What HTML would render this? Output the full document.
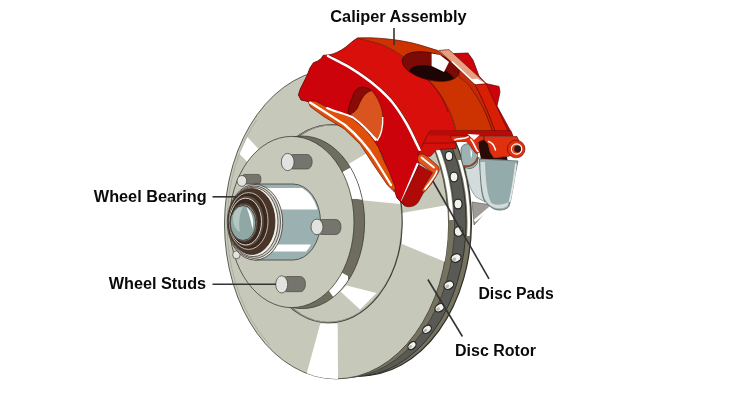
<!DOCTYPE html>
<html><head><meta charset="utf-8"><title>Disc Brake Parts</title>
<style>
html,body{margin:0;padding:0;background:#fff;}
body{width:750px;height:400px;overflow:hidden;position:relative;font-family:"Liberation Sans",sans-serif;}
svg{position:absolute;left:0;top:0;display:block;will-change:transform;-webkit-font-smoothing:antialiased}
.lbl{font-family:"Liberation Sans",sans-serif;font-weight:700;font-size:16px;fill:#0a0a0a;}
</style></head><body>
<svg width="750" height="400" viewBox="0 0 750 400">
<defs>
<clipPath id="faceclip"><ellipse cx="336.28" cy="224.0" rx="111.8" ry="154.9"/></clipPath>
<clipPath id="leftclip"><rect x="200" y="120" width="70" height="230"/></clipPath>
<clipPath id="hiclip"><rect x="400" y="120" width="90" height="100"/></clipPath>
<clipPath id="hiclip2"><rect x="400" y="160" width="90" height="76"/></clipPath>
<clipPath id="hatclip"><ellipse cx="330.3" cy="223.6" rx="71" ry="98.300" transform="rotate(2 330.3 223.6)"/></clipPath>
<clipPath id="cresclip"><ellipse cx="302.200" cy="222.300" rx="62" ry="85.900"/></clipPath>
<clipPath id="holeclip"><ellipse cx="430.500" cy="66.500" rx="28.700" ry="13.200" transform="rotate(14 430.5 66.5)"/></clipPath>
</defs>
<!-- ROTOR -->
<g id="rotor">
<ellipse cx="360.24" cy="221.65" rx="111.27" ry="154.16" fill="#75735f" stroke="#2e2e28" stroke-width="1.200"/>
<ellipse cx="354.66" cy="222.20" rx="111.39" ry="154.33" fill="#595955" stroke="#2e2e28" stroke-width="0.900"/>
<ellipse cx="342.99" cy="223.34" rx="111.65" ry="154.69" fill="#75735f" stroke="#3c3c36" stroke-width="0.800"/>
<g clip-path="url(#hiclip)" fill="none" stroke="#fff">
<ellipse cx="339.63" cy="223.67" rx="111.73" ry="154.80" stroke-width="3.800"/>
</g>
<g clip-path="url(#hiclip2)" fill="none" stroke="#fff">
<ellipse cx="357.48" cy="221.92" rx="111.33" ry="154.25" stroke-width="2.600"/>
</g>
<g id="holes" fill="#f2f2ee" stroke="#2a2a26" stroke-width="1.300">
<ellipse cx="449" cy="156" rx="3.800" ry="4.600"/>
<ellipse cx="454" cy="177" rx="4.000" ry="4.800"/>
<ellipse cx="458" cy="204" rx="4.100" ry="4.900"/>
<ellipse cx="458.500" cy="231.500" rx="4.300" ry="4.800"/>
<ellipse cx="456" cy="258" rx="5.100" ry="4.100" transform="rotate(-22 456 258)"/>
<ellipse cx="448.800" cy="285.200" rx="5.100" ry="3.900" transform="rotate(-28 448.8 285.2)"/>
<ellipse cx="439.600" cy="307.800" rx="5.000" ry="3.700" transform="rotate(-33 439.6 307.8)"/>
<ellipse cx="427" cy="329.300" rx="4.900" ry="3.500" transform="rotate(-38 427 329.3)"/>
<ellipse cx="412" cy="345.600" rx="4.700" ry="3.200" transform="rotate(-42 412 345.6)"/>
</g>
<g fill="#b9b9b1">
<ellipse cx="454.300" cy="259.300" rx="2" ry="1.700" transform="rotate(-22 454.3 259.3)"/>
<ellipse cx="447.200" cy="286.400" rx="2" ry="1.600" transform="rotate(-28 447.2 286.4)"/>
<ellipse cx="438" cy="309" rx="2" ry="1.500" transform="rotate(-33 438 309)"/>
<ellipse cx="425.500" cy="330.400" rx="1.900" ry="1.400" transform="rotate(-38 425.5 330.4)"/>
<ellipse cx="410.600" cy="346.600" rx="1.800" ry="1.300" transform="rotate(-42 410.6 346.6)"/>
</g>
<ellipse cx="336.28" cy="224.00" rx="111.80" ry="154.90" fill="#c6c9ba" stroke="#3c3c36" stroke-width="0.800"/>
<g clip-path="url(#faceclip)" fill="#fff">
<polygon points="247.400,137 258.500,149 247.500,162 239,153.500"/>
<polygon points="320.300,323.500 337.700,323.500 338,382 306,376"/>
<polygon points="402,213 450,204.500 450,264 402,244"/>
</g>
<g clip-path="url(#leftclip)">
<ellipse cx="336.58" cy="224.00" rx="109.50" ry="152.60" fill="none" stroke="#9c9c90" stroke-width="0.600"/>
</g>
</g>
<!-- HAT -->
<g id="hat">
<ellipse cx="330.300" cy="223.600" rx="71.600" ry="98.900" transform="rotate(2 330.3 223.6)" fill="#c6c9ba" stroke="#3c3c36" stroke-width="1.600"/>
<ellipse cx="330" cy="223.600" rx="71.300" ry="98.600" transform="rotate(2 330.3 223.6)" fill="none" stroke="#e8e8e0" stroke-width="0.500"/>
<g clip-path="url(#hatclip)" fill="#fff">
<polygon points="299,193 352,162 372,150 420,150 420,206 400,204 362,200.300"/>
<polygon points="346.500,285.500 376.500,293 360,309.500 340.500,291.500"/>
</g>
<ellipse cx="302.200" cy="222.300" rx="62.400" ry="86.300" fill="#6e6d5e" stroke="#3c3c36" stroke-width="0.800"/>
<g clip-path="url(#cresclip)" fill="#fff">
<polygon points="299,198 346,170 372,156 372,202 357.500,199"/>
<polygon points="300,250 348,276 348,294 334,298"/>
</g>
<ellipse cx="291.700" cy="222" rx="62.300" ry="85.600" fill="#c6c9ba" stroke="#3c3c36" stroke-width="0.800"/>
</g>
<!-- STUDS -->
<g id="studs">
<g fill="#75756d" stroke="#3c3c36" stroke-width="0.6">
<rect x="287.7" y="154.5" width="24.5" height="14.5" rx="5" ry="7"/>
<rect x="241.9" y="174.4" width="19" height="9.6" rx="3" ry="4.5"/>
<rect x="316.5" y="219.5" width="24.500" height="15" rx="5" ry="7"/>
<rect x="281.7" y="276.5" width="23.7" height="15.2" rx="5" ry="7"/>
</g>
<g fill="#e2e2e0" stroke="#3c3c36" stroke-width="0.7">
<ellipse cx="287.7" cy="162" rx="6.4" ry="8.6"/>
<ellipse cx="241.9" cy="180.9" rx="4.8" ry="5.4"/>
<ellipse cx="236.4" cy="254.8" rx="3.8" ry="4"/>
<ellipse cx="281.7" cy="284.4" rx="6" ry="8.6"/>
</g>
</g>
<!-- HUB -->
<g id="hub">
<path d="M255 184 L293 184 A27.5 38 0 0 1 293 260 L255 260 Z" fill="#9bb0b0" stroke="#3c3c36" stroke-width="0.8"/>
<path d="M258 188 L302 188 A27.5 38 0 0 1 317.5 209.6 L258 209.6 Z" fill="#fff"/>
<path d="M258 244.4 L311 244.4 A27.5 38 0 0 1 306 251.6 L258 251.6 Z" fill="#fff"/>
<ellipse cx="317" cy="226.9" rx="6" ry="7.8" fill="#e2e2e0" stroke="#3c3c36" stroke-width="0.7"/>
</g>
<!-- BEARING -->
<g id="bearing" stroke="#2a2019" stroke-width="0.7">
<ellipse cx="255" cy="222.300" rx="27.700" ry="37.800" fill="#e6e6e0"/>
<ellipse cx="254.200" cy="222.200" rx="26.300" ry="36.200" fill="#cfcfc8"/>
<ellipse cx="253.200" cy="222" rx="24.800" ry="34.600" fill="#f0f0ec"/>
<ellipse cx="251.700" cy="221.500" rx="23.300" ry="33" fill="#4a3528"/>
<ellipse cx="248.600" cy="221" rx="19.400" ry="28.400" fill="#3a2a20" stroke="#cfc8c0" stroke-width="0.900"/>
<ellipse cx="247" cy="221.200" rx="17.400" ry="25.800" fill="#5a483c" stroke="#2a2019" stroke-width="0.600"/>
<ellipse cx="245.700" cy="221.600" rx="15.800" ry="23.400" fill="#3a2a20" stroke="#d8d2ca" stroke-width="1"/>
<ellipse cx="244.400" cy="222.400" rx="14.200" ry="20.400" fill="#4a3a30" stroke="#2a2019" stroke-width="0.600"/>
<ellipse cx="243.600" cy="222.800" rx="13.400" ry="18.600" fill="#a89e94" stroke="#2a2019" stroke-width="0.600"/>
<ellipse cx="243" cy="223" rx="12.800" ry="17.500" fill="#8fa8a3"/>
</g>
<path d="M233 218 C234 210 238 207 243 207 C240 212 238 222 240 232 C236 230 233 225 233 218 Z" fill="#b4c6c2"/>
<path d="M246.500 207.600 C252 211 254.500 221 252.500 229 C251 222 249.500 214 246.500 207.600 Z" fill="#fff"/>
<!-- CALIPER -->
<g id="caliper" stroke-linejoin="round">
<!-- pads / bracket behind -->
<g id="pads">
<path d="M472 202 L492 205 L474 225 Z" fill="#a09b96" stroke="#55554d" stroke-width="0.600"/>
<path d="M474.500 221 L491.500 206.500" stroke="#fff" stroke-width="2.800" fill="none"/>
<path d="M465 166 C470 170 476 168 478 158 L481 158 L485 202 L476 197 C470 190 467 180 465 166 Z" fill="#d3dcda" stroke="#4a5a5a" stroke-width="0.500"/>
<path d="M479.500 159 L518 161 C517 166 516 170 515 175 C514 182 513 188 512 193 C511 199 510 204 508.500 207 C505 210.500 498 211 493 208.500 C489 206 486 203 483.500 199 C481.500 192 481 186 480.500 178 C480 170 479.500 165 479.500 159 Z" fill="#93abab" stroke="#4a5a5a" stroke-width="0.700"/>
<path d="M480.500 162 C480.500 178 482 190 484.500 198.500 C487 203 490 206 494 207.500 C499 209 504 208.500 507.500 206 L508.500 202 C503 205 497 205.500 492 203.500 C487.500 198 485.500 180 485 162 Z" fill="#d3dcda"/>
<path d="M516 163.500 C514.500 176 512.500 190 509.500 202" stroke="#dfe6e4" stroke-width="1.800" fill="none"/>
<path d="M461 150 C461 145 466 143 470 144 C475 145 477.500 149 477.500 153 L477.500 163 C474 170 466 170 463 165 C461 160 461 155 461 150 Z" fill="#9db3b3" stroke="#4a5a5a" stroke-width="0.700"/>
<path d="M470.500 149 C472.500 151 472.500 156 471 158 C470.500 155 470.500 152 470.500 149 Z" fill="#fff"/>
<path d="M464 166 C470 167.500 476 164 478 157" stroke="#8b4a2a" stroke-width="2" fill="none"/>
</g>
<!-- left face (base red) -->
<path d="M328 56 C334.5 59.4 341.3 62.6 347.5 66.2 C353.7 69.8 360.1 74.2 365.0 77.6 C369.9 81.0 372.2 82.6 376.8 86.8 C381.3 90.9 387.5 96.4 392.5 102.5 C397.5 108.6 402.4 116.5 406.5 123.5 C410.6 130.5 414.8 140.1 417.0 144.5 C419.2 148.9 418.7 148.0 419.6 149.8 L419 165 L402 201 L404 205 L397 198 L381 152 L340 115 L308 101.600 L301 100 L298.400 95 L300.250 89 L307.250 75 L309.900 68 L313.400 62.750 L317.750 61 L321.250 58.400 L323 55.400 L328.250 54.900 Z" fill="#cd030b" stroke="#5a0503" stroke-width="0.8"/>
<!-- bright top face -->
<path d="M357.600 38 C353 40.500 349 44.500 345.800 47 C340 51.500 333 54.500 328.250 54.900 L328 56 C334.5 59.4 341.3 62.6 347.5 66.2 C353.7 69.8 360.1 74.2 365.0 77.6 C369.9 81.0 372.2 82.6 376.8 86.8 C381.3 90.9 387.5 96.4 392.5 102.5 C397.5 108.6 402.4 116.5 406.5 123.5 C410.6 130.5 414.8 140.1 417.0 144.5 C419.2 148.9 418.7 148.0 419.6 149.8 L429 143 L429.500 131 L456 131 C452 112 442 94 428 79 C412 62 396 50 380 44 Z" fill="#d90f0b"/>
<path d="M328.250 54.900 C333 54.500 340 51.500 345.800 47 C349 44.500 353 40.500 357.600 38" fill="none" stroke="#5a0503" stroke-width="0.800"/>
<!-- right red tabs -->
<path d="M449 50 L452 53.600 L468 53 L473 60 L479 76 L486 83.600 L499 86.400 L500 92 L497 106 L510.500 131 L492 131 L475 84.400 Z" fill="#cd030b" stroke="#5a0503" stroke-width="0.7"/>
<!-- dark orange -->
<path d="M357.600 38 C372 37 400 39 420 45 L438 50.600 L460 71 L459 77 C464 80 468 84 470 86.500 C480 100 487 114 492.500 131 L456 131 C452 112 442 94 428 79 C412 62 396 50 380 44 Z" fill="#cc3300" stroke="#5a0a03" stroke-width="0.700"/>
<path d="M428 80 C438 90 444 100 448 112" stroke="#5a0a03" stroke-width="0.600" fill="none"/>
<path d="M459 70 L475 84.400 C482 98 489 114 495 131 L492.500 131 C487 114 480 100 470 86.500 C468 84 464 80 459 77 Z" fill="#c92806" stroke="#5a0a03" stroke-width="0.500"/>
<!-- bright stripe D -->
<path d="M475 84.400 L486 83.600 L508 131 L495 131 C489 114 482 98 475 84.400 Z" fill="#d81e05" stroke="#5a0a03" stroke-width="0.600"/>
<!-- hole -->
<g transform="rotate(14 430.500 66.500)">
<ellipse cx="430.500" cy="66.500" rx="29" ry="13.500" fill="#7d0a05" stroke="#3a0502" stroke-width="0.7"/>
</g>
<g clip-path="url(#holeclip)"><ellipse cx="432" cy="76" rx="23" ry="9.500" transform="rotate(14 432 76)" fill="#1e0505"/></g>
<polygon points="431.600,53.600 440,55 449,62 444,72 431.600,66" fill="#fff"/>
<!-- pink stripe -->
<polygon points="439,50.400 449,49.600 486,83.600 475,84.400" fill="#e8a080" stroke="#5a0a03" stroke-width="0.6"/>
<polygon points="470.500,79.500 477,78.500 485,83.300 475.800,84.200" fill="#fff"/>
<path d="M452 61.500 L475.500 83.500" stroke="#fff" stroke-width="1.500" fill="none"/>
<!-- step + band -->
<path d="M429.500 131 L511 131 L513 136 L456 135.500 L456 148.500 L446 149 L436.500 149.800 L430.300 156.500 L418 155 L420 150 Z" fill="#d4100a" stroke="#5a0503" stroke-width="0.6"/>
<path d="M423.500 143.200 L456 142.900" stroke="#7a0705" stroke-width="0.700" fill="none"/>
<path d="M429.500 131 L511 131 L513 136 L429 135.500 Z" fill="#b80a08"/>
<!-- white highlight -->
<path d="M328.9 55.0 C335.4 58.4 342.2 61.6 348.4 65.2 C354.6 68.8 361.0 73.2 365.9 76.6 C370.8 80.0 373.1 81.6 377.6 85.8 C382.2 89.9 388.4 95.4 393.4 101.5 C398.4 107.6 403.3 115.5 407.4 122.5 C411.5 129.5 415.7 139.1 417.9 143.5 C420.1 147.9 419.6 147.0 420.5 148.8" stroke="#5a0503" stroke-width="0.900" fill="none"/>
<path d="M328 56 C334.5 59.4 341.3 62.6 347.5 66.2 C353.7 69.8 360.1 74.2 365.0 77.6 C369.9 81.0 372.2 82.6 376.8 86.8 C381.3 90.9 387.5 96.4 392.5 102.5 C397.5 108.6 402.4 116.5 406.5 123.5 C410.6 130.5 414.8 140.1 417.0 144.5 C419.2 148.9 418.7 148.0 419.6 149.8" stroke="#fff" stroke-width="2.500" fill="none" stroke-linecap="round"/>
<path d="M417.500 164 L402.300 200.500" stroke="#fff" stroke-width="2.300" fill="none" stroke-linecap="round"/>
<!-- dark red lower face -->
<path d="M418.800 165 L434 173.400 L419 200.800 C416 207 408 208 404 205.500 L401.500 201.500 Z" fill="#b00a08" stroke="#5a0503" stroke-width="0.6"/>
<!-- bracket -->
<path d="M478 141 L484 138 L488 144 L490 152 L494 158 L507 156.500 L507.500 160 L481 158.800 L479.500 152 Z" fill="#2a0a05"/>
<path d="M451 135.800 L484 136.300 L484 140 C480 141 478 142 478 144 L479.800 152 L476 153.500 C472 149 470 144 466 141.500 L453 141.500 C451 140 450.500 137.500 451 135.800 Z" fill="#e03010" stroke="#5a0a03" stroke-width="0.600"/>
<path d="M484 136.300 L517 136.500 L519 141 L513 155 L507.500 156.500 L494 158 L490 152 L488 144 L484 140 Z" fill="#e03010" stroke="#5a0a03" stroke-width="0.600"/>
<circle cx="516.200" cy="149" r="8.800" fill="#e03010" stroke="#5a0a03" stroke-width="0.600"/>
<circle cx="516.600" cy="149" r="5.800" fill="#fff"/>
<circle cx="516.400" cy="149" r="4.600" fill="#e8431e"/>
<circle cx="517.600" cy="149" r="3.400" fill="#2a1a1a"/>
<path d="M455 139.800 C459 137.500 464 139.800 468 136.800" stroke="#fff" stroke-width="1.600" fill="none" stroke-linecap="round"/>
<polygon points="467.500,134 479.800,134.800 474,140" fill="#fff"/>
<path d="M470.800 139.500 C474.500 143 474.500 148 478 151.500" stroke="#fff" stroke-width="1.700" fill="none" stroke-linecap="round"/>
<path d="M488.500 141.500 C492 142.500 494.500 146 495.500 150" stroke="#fff" stroke-width="1.500" fill="none" stroke-linecap="round"/>
<!-- arch -->
<path d="M347.900 112.400 C349 106 350.500 101 352.250 97.500 C353.500 93 355.500 90 357.500 88.750 C359.500 87.300 361.500 86.800 363.600 87 C366.500 87.500 369 88.800 371.500 90.500 C367.500 92 364.500 94.500 362.750 97.500 C360.500 101 359 104.500 357.500 108 C356 110.500 354.500 112.500 352.250 113.250 L350 115 Z" fill="#8b0a05" stroke="#3a0502" stroke-width="0.600"/>
<path d="M371.500 90.500 C367.500 92 364.500 94.500 362.750 97.500 C360.500 101 359 104.500 357.500 108 C356 110.500 354 112.500 350.500 114 L353 117 L361 124 L365 128 L377.600 141 C380 136 381.500 132 382 129 C383 125 383.200 121 382.900 116.750 C382.500 112 381.500 107 379.400 102.750 C377.500 98 375 94 371.500 90.500 Z" fill="#d9541e" stroke="#5a0a03" stroke-width="0.600"/>
<path d="M382.700 117 C383 122 382.500 127 381.500 131 C380.500 135 379 138 377.400 140.300 L368 131" stroke="#fff" stroke-width="1.400" fill="none" stroke-linejoin="round"/>
<!-- orange strip -->
<path d="M308 101 L315 101 L325 106 L335 111 L347 115 L353 119 L365 129 L373 139 L378.500 147.500 L382.500 158 L388.500 170 L395.500 188 L394 191.500 L387.300 184.900 L374.300 165.900 L360.300 144.400 L344.300 128.900 L324.300 116.900 L310.300 106.700 Z" fill="#e0500a" stroke="#5a0a03" stroke-width="0.6"/>
<path d="M310 102.600 C322 110 334 118 345 125 C358 136 368 148 375 159 L391 185" stroke="#fff" stroke-width="2.300" stroke-linecap="round" fill="none"/>
<path d="M327 108 C336 112 346 114 353 117.500 C362 124 369 131 375.500 140" stroke="#fff" stroke-width="2" stroke-linecap="round" fill="none"/>
<!-- clip -->
<path d="M418 156.500 C419 153.500 423 153.500 426 155.500 L437.500 165.500 C439.500 167.500 439.800 170.500 438.500 172.500 L431 184.500 L424 192.500 L421.500 190.500 L432.500 172.500 L418.500 162 C417.500 160.500 417.300 158 418 156.500 Z" fill="#e0561e" stroke="#5a0a03" stroke-width="0.600"/>
<path d="M421.500 157.500 L434 167.500" stroke="#fff" stroke-width="1.800" fill="none" stroke-linecap="round"/>
<path d="M436.800 171 C436.500 175 431 181 425 189" stroke="#fff" stroke-width="1.700" fill="none" stroke-linecap="round"/>
</g>
<!-- labels -->
<g stroke="#333" stroke-width="1.600" fill="none">
<line x1="394" y1="28" x2="394" y2="45"/>
<line x1="212.5" y1="196.800" x2="237" y2="196.800"/>
<line x1="212.5" y1="284.200" x2="276" y2="284.200"/>
<line x1="432.800" y1="181" x2="489" y2="278.800"/>
<line x1="427.900" y1="279.500" x2="462.400" y2="336.500"/>
</g>
<text class="lbl" x="330.300" y="22.200" textLength="136.400" lengthAdjust="spacingAndGlyphs">Caliper Assembly</text>
<text class="lbl" x="93.800" y="202.200" textLength="112.900" lengthAdjust="spacingAndGlyphs">Wheel Bearing</text>
<text class="lbl" x="108.700" y="289" textLength="97.400" lengthAdjust="spacingAndGlyphs">Wheel Studs</text>
<text class="lbl" x="478.400" y="298.800" textLength="75.300" lengthAdjust="spacingAndGlyphs">Disc Pads</text>
<text class="lbl" x="455" y="355.800" textLength="80.900" lengthAdjust="spacingAndGlyphs">Disc Rotor</text>
</svg>
</body></html>
